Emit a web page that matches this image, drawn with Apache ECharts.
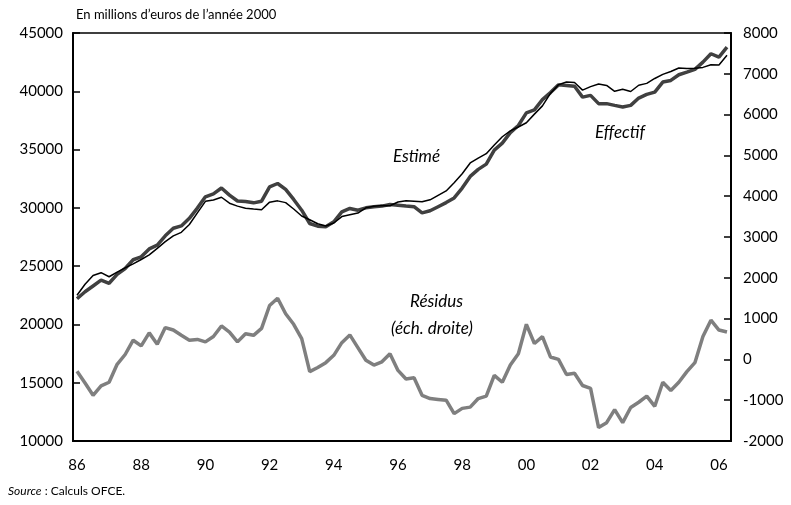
<!DOCTYPE html>
<html>
<head>
<meta charset="utf-8">
<script src="https://cdn.jsdelivr.net/npm/echarts@6/dist/echarts.min.js"></script>
<style>html,body{margin:0;padding:0;background:#fff}#c{width:791px;height:505px}</style>
</head>
<body>
<div id="c"></div>
<script>
// Quarters 1986Q1 .. 2006Q2
var startYear = 1986, nQuarters = 82;
var quarters = [];
for (var i = 0; i < nQuarters; i++) {
  quarters.push((startYear + Math.floor(i / 4)) + 'Q' + (i % 4 + 1));
}
var leftTicks = [10000, 45000, 5000];
var rightTicks = [-2000, 8000, 1000];

var effectif = [22200,22800,23300,23800,23530,24300,24800,25550,25800,26480,
  26800,27600,28250,28450,29100,29980,30950,31200,31700,31090,
  30590,30540,30430,30570,31800,32090,31580,30720,29800,28660,
  28430,28370,28800,29660,29950,29800,30000,30090,30150,30290,
  30230,30150,30100,29570,29750,30100,30450,30850,31700,32700,
  33300,33750,34950,35550,36450,37070,38150,38400,39280,39890,
  40550,40500,40430,39500,39650,38940,38940,38790,38650,38790,
  39420,39730,39930,40790,40930,41420,41640,41880,42500,43220,
  42930,43780];

var estime = [22500,23450,24200,24440,24090,24480,24850,25200,25570,25960,
  26520,27100,27600,27900,28570,29570,30560,30680,30910,30400,
  30150,29970,29900,29840,30490,30600,30450,29900,29300,28980,
  28640,28450,28700,29250,29400,29550,30000,30130,30200,30180,
  30500,30600,30560,30520,30690,31070,31450,32150,32920,33850,
  34270,34650,35400,36100,36610,36935,37300,38040,38750,39820,
  40560,40800,40750,40100,40400,40630,40500,40000,40170,39980,
  40520,40680,41100,41450,41700,42000,41960,41970,42050,42270,
  42250,43090];

var residus = [-290,-580,-880,-650,-560,-120,120,470,330,650,
  370,780,720,590,470,490,430,560,820,670,
  430,630,590,760,1320,1500,1120,860,510,-300,
  -200,-80,100,410,600,290,-20,-140,-60,140,
  -270,-480,-450,-880,-960,-980,-1000,-1330,-1200,-1170,
  -960,-900,-390,-560,-140,140,860,390,560,60,
  0,-370,-340,-640,-710,-1670,-1550,-1230,-1550,-1180,
  -1050,-900,-1150,-560,-760,-560,-300,-80,560,960,
  720,670];

var FONT = 'Lato, "Open Sans", sans-serif';
function plain(v) { return String(v); }
var chart = echarts.init(document.getElementById('c'), null, {renderer: 'canvas'});
chart.setOption({
  animation: false,
  backgroundColor: '#fff',
  textStyle: {fontFamily: FONT, color: '#000'},
  grid: {left: 73, right: 60, top: 33, bottom: 64, show: true, borderColor: '#000', borderWidth: 1.5},
  xAxis: {
    type: 'category',
    data: quarters,
    boundaryGap: true,
    axisLine: {onZero: false, lineStyle: {color: '#000', width: 2}},
    axisTick: {inside: true, length: 6, lineStyle: {color: '#000', width: 1.5},
      interval: function (idx) { return idx % 4 === 0; }},
    axisLabel: {
      interval: function (idx) { return idx % 8 === 0; },
      formatter: function (v) { return v.slice(2, 4); },
      fontFamily: FONT, fontSize: 15, color: '#000', margin: 17
    },
    splitLine: {show: false}
  },
  yAxis: [{
    type: 'value', min: leftTicks[0], max: leftTicks[1], interval: leftTicks[2],
    axisLine: {show: true, onZero: false, lineStyle: {color: '#000', width: 2}},
    axisTick: {show: true, inside: true, length: 7, lineStyle: {color: '#000', width: 1.5}},
    axisLabel: {fontFamily: FONT, fontSize: 15, color: '#000', margin: 10, formatter: plain},
    splitLine: {show: false}
  }, {
    type: 'value', min: rightTicks[0], max: rightTicks[1], interval: rightTicks[2],
    position: 'right',
    axisLine: {show: true, onZero: false, lineStyle: {color: '#000', width: 2}},
    axisTick: {show: true, inside: true, length: 7, lineStyle: {color: '#000', width: 1.5}},
    axisLabel: {fontFamily: FONT, fontSize: 15, color: '#000', margin: 12, formatter: plain},
    splitLine: {show: false}
  }],
  series: [{
    name: 'Résidus', type: 'line', yAxisIndex: 1, data: residus,
    showSymbol: false, lineStyle: {color: '#7f7f7f', width: 3.5}
  }, {
    name: 'Effectif', type: 'line', yAxisIndex: 0, data: effectif,
    showSymbol: false, lineStyle: {color: '#404040', width: 3.5}
  }, {
    name: 'Estimé', type: 'line', yAxisIndex: 0, data: estime,
    showSymbol: false, lineStyle: {color: '#000', width: 1.5}
  }],
  graphic: [
    {type: 'text', left: 76, top: 8, style: {text: 'En millions d\u2019euros de l\u2019année 2000', font: '13px ' + FONT, fill: '#000'}},
    {type: 'text', left: 393, top: 148, style: {text: 'Estimé', font: 'italic 17px ' + FONT, fill: '#000'}},
    {type: 'text', left: 595, top: 124, style: {text: 'Effectif', font: 'italic 17px ' + FONT, fill: '#000'}},
    {type: 'text', left: 410, top: 293, style: {text: 'Résidus', font: 'italic 17px ' + FONT, fill: '#000'}},
    {type: 'text', left: 391, top: 320, style: {text: '(éch. droite)', font: 'italic 17px ' + FONT, fill: '#000'}},
    {type: 'text', left: 8, top: 485, style: {
      text: '{i|Source} : Calculs OFCE.',
      rich: {i: {fontStyle: 'italic', fontSize: 12, fontFamily: FONT}},
      font: '12px ' + FONT, fill: '#000'}}
  ]
});
</script>
</body>
</html>
